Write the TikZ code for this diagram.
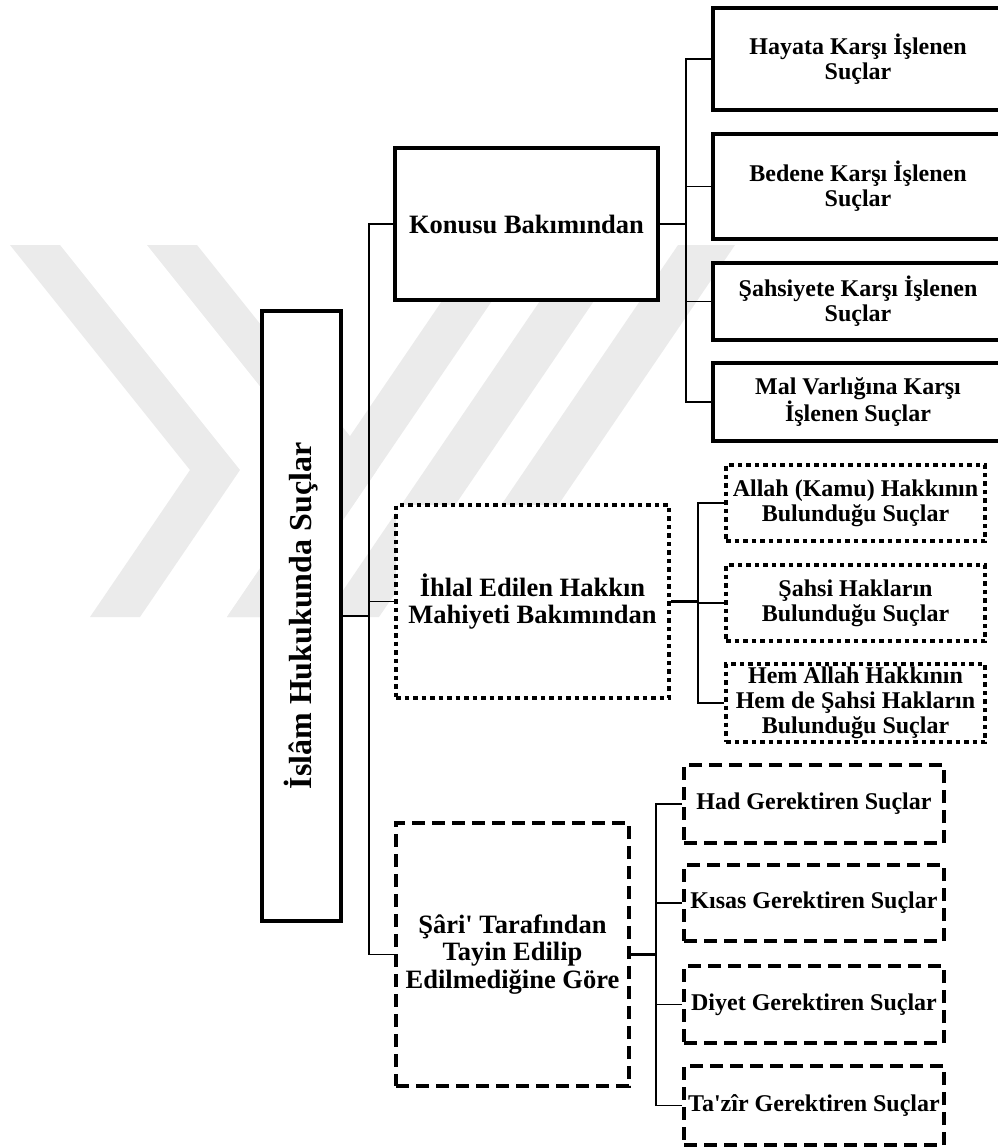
\documentclass[tikz,border=0pt]{standalone}
\usepackage{fontspec}
\setmainfont{Liberation Serif}
\usepackage{tikz}

\definecolor{wmgray}{gray}{0.92}

\begin{document}
\begin{tikzpicture}[x=1pt, y=-1pt,
  box/.style={draw, fill=white, line width=4.5pt, align=center, inner sep=1pt},
  dotbox/.style={box, line width=4pt, dash pattern=on 4.5pt off 4pt},
  dashbox/.style={box, line width=4pt, dash pattern=on 13pt off 7pt},
  rootfont/.style={font=\fontsize{32}{34}\selectfont\bfseries},
  midfont/.style={font=\fontsize{26.5}{27.5}\selectfont\bfseries},
  leaffont/.style={font=\fontsize{24}{25}\selectfont\bfseries},
  link/.style={line width=1.6pt},
  stem/.style={line width=2.4pt}]

\useasboundingbox (0, 0) rectangle (997, 1148);

\fill[wmgray] (10, 245) -- (60, 245) -- (240, 470) -- (140, 617) -- (90, 617) -- (190, 470) -- cycle;
\fill[wmgray] (147, 245) -- (197, 245) -- (377, 470) -- (277, 617) -- (227, 617) -- (327, 470) -- cycle;
\fill[wmgray] (227, 617) -- (277, 617) -- (530, 245) -- (480, 245) -- cycle;
\fill[wmgray] (325, 617) -- (379, 617) -- (632, 245) -- (578, 245) -- cycle;
\fill[wmgray] (425, 617) -- (482, 617) -- (735, 245) -- (678, 245) -- cycle;

\node[box, rootfont, minimum width=79, minimum height=610] (root) at (301.5, 616) {\rotatebox{90}{İslâm Hukukunda Suçlar}};

\node[box, midfont, minimum width=263, minimum height=152] (konusu) at (526.5, 224) {Konusu Bakımından};
\node[dotbox, midfont, minimum width=273, minimum height=193] (ihlal) at (532.5, 601.5) {İhlal Edilen Hakkın\\Mahiyeti Bakımından};
\node[dashbox, midfont, minimum width=233, minimum height=263] (sari) at (512.5, 954.5) {Şâri\textquotesingle{} Tarafından\\Tayin Edilip\\Edilmediğine Göre};

\node[box, leaffont, minimum width=290, minimum height=102] (hayata) at (858, 59) {Hayata Karşı İşlenen\\Suçlar};
\node[box, leaffont, minimum width=290, minimum height=105] (bedene) at (858, 186.5) {Bedene Karşı İşlenen\\Suçlar};
\node[box, leaffont, minimum width=290, minimum height=77] (sahsiyete) at (858, 301.5) {Şahsiyete Karşı İşlenen\\Suçlar};
\node[box, leaffont, minimum width=290, minimum height=78] (mal) at (858, 402) {Mal Varlığına Karşı\\İşlenen Suçlar};

\node[dotbox, leaffont, minimum width=259, minimum height=76] (allah) at (855.5, 503) {Allah (Kamu) Hakkının\\Bulunduğu Suçlar};
\node[dotbox, leaffont, minimum width=259, minimum height=76] (sahsi) at (855.5, 603) {Şahsi Hakların\\Bulunduğu Suçlar};
\node[dotbox, leaffont, minimum width=259, minimum height=78] (hem) at (855.5, 703) {Hem Allah Hakkının\\Hem de Şahsi Hakların\\Bulunduğu Suçlar};

\node[dashbox, leaffont, minimum width=260, minimum height=78] (had) at (814, 804) {Had Gerektiren Suçlar};
\node[dashbox, leaffont, minimum width=260, minimum height=76] (kisas) at (814, 903) {Kısas Gerektiren Suçlar};
\node[dashbox, leaffont, minimum width=260, minimum height=77] (diyet) at (814, 1004.5) {Diyet Gerektiren Suçlar};
\node[dashbox, leaffont, minimum width=260, minimum height=79] (tazir) at (814, 1105.5) {Ta\textquotesingle{}zîr Gerektiren Suçlar};

\coordinate (trunk) at (369, 0);
\coordinate (kbus) at (686, 0);
\coordinate (ibus) at (698, 0);
\coordinate (sbus) at (656, 0);

\draw[stem] (root.east) -- (root.east -| trunk);
\draw[link] (konusu.west) -- (konusu.west -| trunk) -- (sari.west -| trunk) -- (sari.west);
\draw[link] (ihlal.west) -- (ihlal.west -| trunk);

\draw[link] (konusu.east) -- (konusu.east -| kbus);
\draw[link] (hayata.west) -- (hayata.west -| kbus) -- (mal.west -| kbus) -- (mal.west);
\draw[link] (bedene.west) -- (bedene.west -| kbus);
\draw[link] (sahsiyete.west) -- (sahsiyete.west -| kbus);

\draw[stem] (ihlal.east) -- (ihlal.east -| ibus);
\draw[link] (allah.west) -- (allah.west -| ibus) -- (hem.west -| ibus) -- (hem.west);
\draw[link] (sahsi.west) -- (sahsi.west -| ibus);

\draw[stem] (sari.east) -- (sari.east -| sbus);
\draw[link] (had.west) -- (had.west -| sbus) -- (tazir.west -| sbus) -- (tazir.west);
\draw[link] (kisas.west) -- (kisas.west -| sbus);
\draw[link] (diyet.west) -- (diyet.west -| sbus);

\end{tikzpicture}
\end{document}
